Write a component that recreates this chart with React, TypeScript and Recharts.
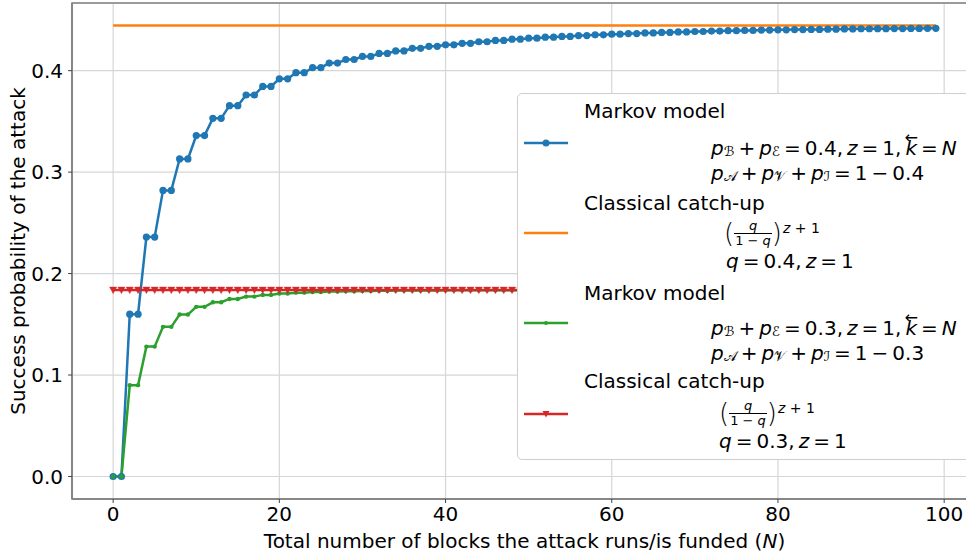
import React from 'react';
import { LineChart, Line, XAxis, YAxis, CartesianGrid, Legend, ReferenceArea } from 'recharts';

// N = 0..99
const blocks = Array.from({ length: 100 }, (_, i) => i);

// Markov model, p_B + p_E = 0.4 (values come in pairs)
const markov04 = [
  0, 0, 0.16, 0.16, 0.236, 0.236, 0.282, 0.282, 0.313, 0.313,
  0.336, 0.336, 0.353, 0.353, 0.3655, 0.3655, 0.376, 0.376, 0.3845, 0.3845,
  0.392, 0.392, 0.398, 0.398, 0.403, 0.403, 0.4075, 0.4075, 0.411, 0.411,
  0.414, 0.414, 0.417, 0.417, 0.4195, 0.4195, 0.422, 0.422, 0.424, 0.424,
  0.4255, 0.4255, 0.427, 0.427, 0.4285, 0.4285, 0.4298, 0.4298, 0.431, 0.431,
  0.432, 0.432, 0.433, 0.433, 0.4338, 0.4338, 0.4346, 0.4346, 0.4353, 0.4353,
  0.436, 0.436, 0.4366, 0.4366, 0.4372, 0.4372, 0.4377, 0.4377, 0.4382, 0.4382,
  0.4386, 0.4386, 0.439, 0.439, 0.4394, 0.4394, 0.4397, 0.4397, 0.44, 0.44,
  0.4403, 0.4403, 0.4405, 0.4405, 0.4407, 0.4407, 0.4409, 0.4409, 0.4411, 0.4411,
  0.4413, 0.4413, 0.4414, 0.4414, 0.4415, 0.4415, 0.4416, 0.4416, 0.4417, 0.4417,
];

// Markov model, p_B + p_E = 0.3
const markov03 = [
  0, 0, 0.09, 0.09, 0.128, 0.128, 0.1475, 0.1475, 0.1596, 0.1596,
  0.1672, 0.1672, 0.1717, 0.1717, 0.175, 0.175, 0.1773, 0.1773, 0.179, 0.179,
  0.1803, 0.1803, 0.1812, 0.1812, 0.1818, 0.1818, 0.1823, 0.1823, 0.1826, 0.1826,
  0.1829, 0.1829, 0.1831, 0.1831, 0.1832, 0.1832, 0.1833, 0.1833, 0.1834, 0.1834,
  0.1835, 0.1835, 0.1835, 0.1835, 0.1836, 0.1836, 0.1836, 0.1836, 0.1836, 0.1836,
  0.1836, 0.1836, 0.1836, 0.1836, 0.1836, 0.1836, 0.1836, 0.1836, 0.1836, 0.1836,
  0.1836, 0.1836, 0.1836, 0.1836, 0.1836, 0.1836, 0.1836, 0.1836, 0.1836, 0.1836,
  0.1836, 0.1836, 0.1836, 0.1836, 0.1836, 0.1836, 0.1836, 0.1836, 0.1836, 0.1836,
  0.1836, 0.1836, 0.1836, 0.1836, 0.1836, 0.1836, 0.1836, 0.1836, 0.1836, 0.1836,
  0.1836, 0.1836, 0.1836, 0.1836, 0.1836, 0.1836, 0.1836, 0.1836, 0.1836, 0.1836,
];

// classical catch-up (q/(1-q))^(z+1), constant in N
const classical04 = 0.4444;
const classical03 = 0.1837;

const xTicks = [0, 20, 40, 60, 80, 100];
const yTicks = [0, 0.1, 0.2, 0.3, 0.4];

const data = blocks.map((n, i) => ({
  n,
  markov04: markov04[i],
  classical04,
  markov03: markov03[i],
  classical03,
}));

const FONT = "'DejaVu Sans', sans-serif";
const BLUE = '#1f77b4';
const ORANGE = '#ff7f0e';
const GREEN = '#2ca02c';
const RED = '#d62728';

const TriangleDot = (props: any) => {
  const { cx, cy, index } = props;
  if (cx == null || cy == null) return <g key={index} />;
  return (
    <path
      key={index}
      d={`M${cx - 3.5},${cy - 3} L${cx + 3.5},${cy - 3} L${cx},${cy + 3.5} Z`}
      fill={RED}
      stroke={RED}
      strokeWidth={0.5}
    />
  );
};

// math helpers for the legend
const I = ({ children }: any) => <span style={{ fontStyle: 'italic' }}>{children}</span>;
const Sub = ({ children }: any) => (
  <span style={{ fontSize: '0.68em', position: 'relative', top: '0.25em' }}>{children}</span>
);
// medium math space
const S = () => <span style={{ display: 'inline-block', width: '0.2em' }} />;
const KArrow = () => (
  <span style={{ position: 'relative', display: 'inline-block', fontStyle: 'italic' }}>
    k
    <span style={{ position: 'absolute', left: '50%', top: '-0.62em', transform: 'translateX(-50%)', fontStyle: 'normal', fontSize: '0.8em' }}>←</span>
  </span>
);
const Frac = () => (
  <span style={{ display: 'inline-flex', alignItems: 'center' }}>
    <span style={{ fontSize: 26, lineHeight: 1, fontWeight: 300 }}>(</span>
    <span style={{ display: 'inline-flex', flexDirection: 'column', alignItems: 'center', fontSize: 13, lineHeight: 1.05 }}>
      <I>q</I>
      <span style={{ borderTop: '1px solid #000', padding: '0 1px' }}>1 − <I>q</I></span>
    </span>
    <span style={{ fontSize: 26, lineHeight: 1, fontWeight: 300 }}>)</span>
    <span style={{ alignSelf: 'flex-start', fontSize: 14, marginTop: -5, marginLeft: 1 }}><I>z</I> + 1</span>
  </span>
);

const Row = ({ left, cy, children }: any) => (
  <div style={{ position: 'absolute', left, top: cy - 14, height: 28, lineHeight: '28px', whiteSpace: 'nowrap', display: 'flex', alignItems: 'center' }}>
    {children}
  </div>
);

const Sample = ({ cy, color, marker }: any) => (
  <svg style={{ position: 'absolute', left: 6, top: cy - 6 }} width={44} height={12}>
    <line x1={0} y1={6} x2={44} y2={6} stroke={color} strokeWidth={2.5} />
    {marker === 'dot' && <circle cx={22} cy={6} r={3.5} fill={color} />}
    {marker === 'small' && <circle cx={22} cy={6} r={2} fill={color} />}
    {marker === 'tri' && <path d="M18.5,3 L25.5,3 L22,9.5 Z" fill={color} />}
  </svg>
);

const MarkovLines = ({ p, top }: any) => (
  <>
    <Row left={193} cy={top}>
      <I>p</I><Sub>ℬ</Sub><S />+<S /><I>p</I><Sub>ℰ</Sub><S />=<S />{p},<S /><I>z</I><S />=<S />1,<S /><KArrow /><S />=<S /><I>N</I>
    </Row>
    <Row left={193} cy={top + 25}>
      <I>p</I><Sub>𝒜</Sub><S />+<S /><I>p</I><Sub>𝒱</Sub><S />+<S /><I>p</I><Sub>ℐ</Sub><S />=<S />1<S />−<S />{p}
    </Row>
  </>
);

const LegendBox = () => (
  <div
    style={{
      position: 'relative',
      width: 455,
      height: 367,
      boxSizing: 'border-box',
      background: '#fff',
      border: '1px solid #cfcfcf',
      borderRadius: 5,
      fontFamily: FONT,
      fontSize: 20,
      color: '#000',
    }}
  >
    <Sample cy={49} color={BLUE} marker="dot" />
    <Row left={66} cy={17}>Markov model</Row>
    <MarkovLines p="0.4" top={54} />

    <Sample cy={139} color={ORANGE} marker="none" />
    <Row left={66} cy={109}>Classical catch-up</Row>
    <Row left={206} cy={139}><Frac /></Row>
    <Row left={208} cy={167}><I>q</I><S />=<S />0.4,<S /><I>z</I><S />=<S />1</Row>

    <Sample cy={229} color={GREEN} marker="small" />
    <Row left={66} cy={199}>Markov model</Row>
    <MarkovLines p="0.3" top={234} />

    <Sample cy={320} color={RED} marker="tri" />
    <Row left={66} cy={287}>Classical catch-up</Row>
    <Row left={201} cy={319}><Frac /></Row>
    <Row left={201} cy={347}><I>q</I><S />=<S />0.3,<S /><I>z</I><S />=<S />1</Row>
  </div>
);

const YLabel = (props: any) => {
  const vb = props.viewBox;
  return (
    <text
      transform={`translate(${vb.x + 18}, ${vb.y + vb.height / 2}) rotate(-90)`}
      textAnchor="middle"
      dominantBaseline="central"
      fontSize={20}
      fontFamily={FONT}
      fill="#000"
    >
      Success probability of the attack
    </text>
  );
};

const XLabel = (props: any) => {
  const vb = props.viewBox;
  return (
    <text
      x={vb.x + vb.width / 2}
      y={541}
      textAnchor="middle"
      dominantBaseline="central"
      fontSize={20}
      fontFamily={FONT}
      fill="#000"
    >
      Total number of blocks the attack runs/is funded (<tspan fontStyle="italic">N</tspan>)
    </text>
  );
};

export default function App() {
  return (
    <div style={{ position: 'absolute', left: 0, top: 0, width: 966, height: 554, overflow: 'hidden', background: '#fff', fontFamily: FONT }}>
      <LineChart width={977} height={554} data={data} margin={{ top: 3, right: 0, bottom: 0, left: 0 }}>
        <CartesianGrid stroke="#d6d6d6" strokeWidth={1.2} />
        <XAxis
          dataKey="n"
          type="number"
          domain={[-4.95, 103.95]}
          ticks={xTicks}
          allowDataOverflow
          height={55}
          tickSize={4}
          tickMargin={4}
          axisLine={{ stroke: '#808080', strokeWidth: 1.5 }}
          tickLine={{ stroke: '#444' }}
          tick={{ fontSize: 20, fill: '#000', fontFamily: FONT }}
          label={{ content: XLabel }}
        />
        <YAxis
          type="number"
          domain={[-0.0222, 0.4667]}
          ticks={yTicks}
          allowDataOverflow
          width={72}
          tickSize={4}
          tickMargin={5}
          tickFormatter={(v: number) => v.toFixed(1)}
          axisLine={{ stroke: '#808080', strokeWidth: 1.5 }}
          tickLine={{ stroke: '#444' }}
          tick={{ fontSize: 20, fill: '#000', fontFamily: FONT }}
          label={{ content: YLabel }}
        />
        <ReferenceArea x1={-4.95} x2={103.95} y1={-0.0222} y2={0.4667} fill="none" stroke="#808080" strokeWidth={1.5} ifOverflow="visible" />
        <Line type="linear" dataKey="markov04" stroke={BLUE} strokeWidth={2.5} dot={{ r: 3.6, fill: BLUE, stroke: BLUE, strokeWidth: 0 }} isAnimationActive={false} />
        <Line type="linear" dataKey="classical04" stroke={ORANGE} strokeWidth={2.5} dot={false} isAnimationActive={false} />
        <Line type="linear" dataKey="markov03" stroke={GREEN} strokeWidth={2.5} dot={{ r: 2.2, fill: GREEN, stroke: GREEN, strokeWidth: 0 }} isAnimationActive={false} />
        <Line type="linear" dataKey="classical03" stroke={RED} strokeWidth={2.5} dot={TriangleDot} isAnimationActive={false} />
        <Legend
          layout="horizontal"
          verticalAlign="middle"
          align="center"
          wrapperStyle={{ left: 517, top: 93, width: 455, height: 367 }}
          content={() => <LegendBox />}
        />
      </LineChart>
    </div>
  );
}
